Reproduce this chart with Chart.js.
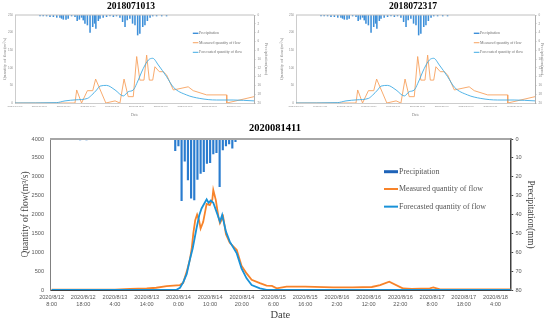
<!DOCTYPE html>
<html><head><meta charset="utf-8">
<script src="https://cdn.jsdelivr.net/npm/chart.js@4"></script>
<style>
html,body{margin:0;padding:0;background:#fff;width:550px;height:331px;overflow:hidden}
.c{position:absolute}
</style></head><body>
<div class="c" style="left:0;top:0;width:275px;height:120px"><canvas id="a" width="275" height="120"></canvas></div>
<div class="c" style="left:275px;top:0;width:275px;height:120px"><canvas id="b" width="275" height="120"></canvas></div>
<div class="c" style="left:0;top:118px;width:550px;height:213px"><canvas id="m" width="550" height="213"></canvas></div>
<script>
// ---------- small charts (events 2018071013 / 2018072317) ----------
const topTickHours = [0,10,20,30,40,50,60,70,80,90];
const topATickLabels = ['2018/7/10 13:00','2018/7/10 23:00','2018/7/11 9:00','2018/7/11 19:00','2018/7/12 5:00','2018/7/12 15:00','2018/7/13 1:00','2018/7/13 11:00','2018/7/13 21:00','2018/7/14 7:00'];
const topBTickLabels = ['2018/7/23 17:00','2018/7/24 3:00','2018/7/24 13:00','2018/7/24 23:00','2018/7/25 9:00','2018/7/25 19:00','2018/7/26 5:00','2018/7/26 15:00','2018/7/27 1:00','2018/7/27 11:00'];
const topRainHours = [10.3,11.6,13.0,14.4,15.8,17.2,18.5,19.2,19.9,21.0,21.9,23.3,24.7,25.6,26.5,27.4,28.1,28.8,29.8,30.9,32.0,32.8,33.3,34.3,35.0,36.3,37.7,39.1,40.5,41.8,43.2,44.3,45.3,46.2,47.3,48.4,49.4,50.5,51.4,52.6,53.5,54.5,55.6,56.7,58.3,60.4,62.4];
const topRainMM = [0.23,0.23,0.23,0.38,0.38,0.53,0.53,0.76,0.98,0.98,0.76,0.23,0.38,1.29,0.98,0.53,1.14,1.89,2.27,3.94,2.65,1.89,3.03,1.29,0.76,0.53,0.38,0.23,0.38,0.23,0.53,1.52,2.65,1.14,0.76,1.89,2.27,4.55,4.17,2.65,2.27,1.29,0.53,0.23,0.23,0.23,0.23];
const topMeasHours = [0,24.7,25.4,27.4,29.8,32.0,33.2,37.4,41.2,43.2,44.9,46.6,48.7,50.1,51.4,53.1,54.2,55.3,56.7,57.6,59.4,61.0,62.4,65.2,71.3,73.4,78.9,87.1,87.2,98.4];
const topMeasFlow = [0,0,37,0,35,35,68,0,6,0,68,18,18,132,65,65,136,65,65,103,89,89,80,37,46,35,23,23,0,18];
const topFcstHours = [0,17,20.6,25,29.8,31.5,33.6,35.0,37.7,41.2,44.6,46.6,48.7,50.1,52.8,54.9,56.7,59.0,62.4,65.2,70.6,76.1,83.0,89.8,98.4];
const topFcstFlow = [0,1,6,9,13,22,37,48,50,37,20,32,37,55,98,122,127,108,75,45,23,13,8.5,8.5,6];

// ---------- main chart (event 2020081411) ----------
const mainTickHours = [0,10,20,30,40,50,60,70,80,90,100,110,120,130,140];
const mainTickLabels = [['2020/8/12','8:00'],['2020/8/12','18:00'],['2020/8/13','4:00'],['2020/8/13','14:00'],['2020/8/14','0:00'],['2020/8/14','10:00'],['2020/8/14','20:00'],['2020/8/15','6:00'],['2020/8/15','16:00'],['2020/8/16','2:00'],['2020/8/16','12:00'],['2020/8/16','22:00'],['2020/8/17','8:00'],['2020/8/17','18:00'],['2020/8/18','4:00']];
const mainRainHours = [9,11,39,40,41,42,43,44,45,46,47,48,49,50,51,52,53,54,55,56,57,58];
const mainRainMM = [0.5,0.5,6.2,3.7,32.7,11.7,21.7,31.4,32.3,21.4,18.2,17.3,12.9,12.5,7.9,7.2,25.3,5.8,3.7,2.6,4.9,1.4];
const mainMeasHours = [0,20,24.7,30,33,36.3,40.5,41.5,42.6,43.6,44.2,44.7,45.3,45.9,46.5,47.0,47.8,48.9,49.9,50.7,51.0,51.8,52.6,53.1,54.1,55.0,56.2,58.4,59.9,61.5,63.1,65.7,67.8,69.5,71.0,74.1,80,88.8,95,101,103.6,106.5,110.9,113.6,119.3,120.4,122.5,144.8];
const mainMeasFlow = [10,10,30,40,60,100,130,190,480,800,1100,1500,1850,2000,1850,1630,1800,2280,2250,2400,2650,2380,1950,1770,1940,1480,1250,1060,640,440,270,180,115,110,45,90,90,70,70,80,130,220,40,30,45,70,15,15];
const mainFcstHours = [0,38,39.4,40.5,41.5,42.6,43.6,44.5,45.7,46.6,47.3,48.9,49.5,50.2,51.0,52.2,53.1,53.8,55.0,56.2,58.4,59.9,61.5,63.1,65.7,67.8,70,144.8];
const mainFcstFlow = [0,0,5,60,200,420,800,1100,1630,1990,2160,2400,2310,2370,2310,2030,1810,1990,1545,1280,970,575,310,130,45,5,0,0];

const seriesNames = ['Precipitation','Measured quantity of flow','Forecasted quantity of flow'];
const pts = (xs, ys) => xs.map((x,i)=>({x, y: ys[i]}));
const SERIF = "'Liberation Serif', 'Times New Roman', serif";
const SANS = "'Liberation Sans', Arial, sans-serif";
const plain = v => String(v);

const topBorder = {
  id:'topBorder',
  afterDatasetsDraw(chart, args, o){
    const {ctx, chartArea:a} = chart;
    ctx.save(); ctx.strokeStyle = o.color; ctx.lineWidth = o.width;
    ctx.beginPath(); ctx.moveTo(a.left, a.top); ctx.lineTo(a.right, a.top); ctx.stroke();
    ctx.restore();
  }
};
const inLegend = {
  id:'inLegend',
  afterDraw(chart, args, o){
    const {ctx, chartArea:a} = chart;
    const w = a.right - a.left, h = a.bottom - a.top;
    const x0 = a.left + o.x * w;
    ctx.save();
    ctx.font = o.font; ctx.textBaseline = 'middle'; ctx.textAlign = 'left';
    o.order.forEach((di, k) => {
      const ds = chart.data.datasets[di];
      const y = a.top + o.ys[k] * h;
      if (ds.type === 'bar') {
        ctx.fillStyle = o.barSwatch || ds.backgroundColor;
        ctx.fillRect(x0, y - o.barH/2, o.sw, o.barH);
      } else {
        ctx.strokeStyle = ds.borderColor; ctx.lineWidth = o.lineW;
        ctx.beginPath(); ctx.moveTo(x0, y); ctx.lineTo(x0 + o.sw, y); ctx.stroke();
      }
      ctx.fillStyle = o.color;
      ctx.fillText(ds.label, x0 + o.sw + o.gap, y);
    });
    ctx.restore();
  }
};

function makeTop(id, title, tickLabels, cfg){
  return new Chart(document.getElementById(id), {
    type:'line',
    data:{datasets:[
      {type:'bar', label:seriesNames[0], data:pts(topRainHours, topRainMM), yAxisID:'y2', xAxisID:'x', backgroundColor:'#3d8fd9', barThickness:0.9, order:3},
      {type:'line', label:seriesNames[1], data:pts(topMeasHours, topMeasFlow), yAxisID:'y', borderColor:'#f7a25f', borderWidth:0.9, pointRadius:0, tension:0, order:2},
      {type:'line', label:seriesNames[2], data:pts(topFcstHours, topFcstFlow), yAxisID:'y', borderColor:'#3fabe4', borderWidth:0.9, pointRadius:0, cubicInterpolationMode:'monotone', order:1}
    ]},
    options:{
      responsive:false, animation:false, devicePixelRatio:1,
      layout:{padding:{left:cfg.pl, right:cfg.pr, top:0, bottom:0}},
      plugins:{
        legend:{display:false}, tooltip:{enabled:false},
        title:{display:true, text:title, color:'#000', font:{family:SERIF, size:9.6, weight:'bold'}, padding:{top:0.74, bottom:2.74}},
        topBorder:{color:'#c0c0c0', width:1},
        inLegend:{x:0.744, ys:[0.208,0.315,0.424], order:[0,1,2], sw:5.6, gap:0.7, barH:1.4, lineW:1, font:"3.9px "+SERIF, color:'#707070'}
      },
      scales:{
        x:{type:'linear', min:0, max:98.4, offset:false,
          afterBuildTicks:s=>{ s.ticks = topTickHours.map(v=>({value:v})); },
          afterFit:s=>{ s.height = 17; },
          grid:{display:false, drawTicks:false, offset:false}, border:{display:true, color:'#c0c0c0', width:0.8},
          ticks:{autoSkip:false, maxRotation:0, padding:2, color:'#8a8a8a', font:{family:SANS, size:2.1}, callback:(v,i)=>tickLabels[i]},
          title:{display:true, text:'Date', color:'#8a8a8a', font:{family:SERIF, size:4}, padding:{top:0, bottom:2.6}}
        },
        y:{position:'left', min:0, max:250,
          afterFit:s=>{ s.width = cfg.lw; },
          grid:{display:false, drawTicks:false}, border:{display:true, color:'#c0c0c0', width:0.8},
          ticks:{stepSize:50, padding:2, color:'#8a8a8a', font:{family:SANS, size:3}, callback:plain},
          title:{display:true, text:'Quantity of flow(m³/s)', color:'#8a8a8a', font:{family:SERIF, size:4.7}, padding:{top:cfg.ltp}}
        },
        y2:{position:'right', min:0, max:20, reverse:true,
          afterFit:s=>{ s.width = cfg.rw; },
          grid:{display:true, drawOnChartArea:false, drawTicks:true, tickLength:1.5, color:'#9a9a9a', lineWidth:0.6},
          border:{display:true, color:'#9a9a9a', width:0.8},
          ticks:{stepSize:2, padding:2, color:'#8a8a8a', font:{family:SANS, size:3}, callback:plain},
          title:{display:true, text:'Precipitation(mm)', color:'#8a8a8a', font:{family:SERIF, size:4.4}, padding:{top:cfg.rtp}}
        }
      }
    },
    plugins:[topBorder, inLegend]
  });
}

makeTop('a', '2018071013', topATickLabels, {pl:0, pr:13, lw:15, rw:8, ltp:1.9, rtp:-6.6});
makeTop('b', '2018072317', topBTickLabels, {pl:1, pr:0, lw:20, rw:15, ltp:2.9, rtp:4.9});

new Chart(document.getElementById('m'), {
  type:'line',
  data:{datasets:[
    {type:'bar', label:seriesNames[0], data:pts(mainRainHours, mainRainMM), yAxisID:'y2', xAxisID:'x', backgroundColor:'#2a7ccf', barThickness:1.5, order:3},
    {type:'line', label:seriesNames[1], data:pts(mainMeasHours, mainMeasFlow), yAxisID:'y', borderColor:'#f7832a', borderWidth:1.8, pointRadius:0, tension:0, order:2},
    {type:'line', label:seriesNames[2], data:pts(mainFcstHours, mainFcstFlow), yAxisID:'y', borderColor:'#1992d8', borderWidth:1.8, pointRadius:0, tension:0, order:1}
  ]},
  options:{
    responsive:false, animation:false, devicePixelRatio:1,
    layout:{padding:0},
    plugins:{
      legend:{display:false}, tooltip:{enabled:false},
      title:{display:true, text:'2020081411', color:'#000', font:{family:SERIF, size:10.5, weight:'bold'}, padding:{top:4, bottom:4.4}},
      topBorder:{color:'#a6a6a6', width:2.2},
      inLegend:{x:0.725, ys:[0.2166,0.331,0.448], order:[0,1,2], sw:14, gap:1, barH:3, lineW:2, font:"7.9px "+SERIF, color:'#555', barSwatch:'#1e63b8'}
    },
    scales:{
      x:{type:'linear', min:-0.5, max:144.8, offset:false,
        afterBuildTicks:s=>{ s.ticks = mainTickHours.map(v=>({value:v})); },
        afterFit:s=>{ s.height = 41; },
        grid:{display:false, drawTicks:false, offset:false}, border:{display:true, color:'#404040', width:1},
        ticks:{autoSkip:false, maxRotation:0, padding:3.9, color:'#595959', font:{family:SANS, size:5.6}, callback:(v,i)=>mainTickLabels[i]},
        title:{display:true, text:'Date', color:'#404040', font:{family:SERIF, size:10.5}, padding:{top:0, bottom:9.7}}
      },
      y:{position:'left', min:0, max:4000,
        afterFit:s=>{ s.width = 50; },
        grid:{display:false, drawTicks:false}, border:{display:true, color:'#808080', width:1},
        ticks:{stepSize:500, padding:6, color:'#595959', font:{family:SANS, size:5.6}, callback:plain},
        title:{display:true, text:'Quantity of flow(m³/s)', color:'#404040', font:{family:SERIF, size:9.5}, padding:{top:19.3}}
      },
      y2:{position:'right', min:0, max:80, reverse:true,
        afterFit:s=>{ s.width = 39.3; },
        grid:{display:true, drawOnChartArea:false, drawTicks:true, tickLength:2.5, color:'#404040', lineWidth:1},
        border:{display:true, color:'#404040', width:1.5},
        ticks:{stepSize:10, padding:2.3, color:'#595959', font:{family:SANS, size:5.6}, callback:plain},
        title:{display:true, text:'Precipitation(mm)', color:'#404040', font:{family:SERIF, size:9.3}, padding:{top:14.4}}
      }
    }
  },
  plugins:[topBorder, inLegend]
});
</script>
</body></html>
